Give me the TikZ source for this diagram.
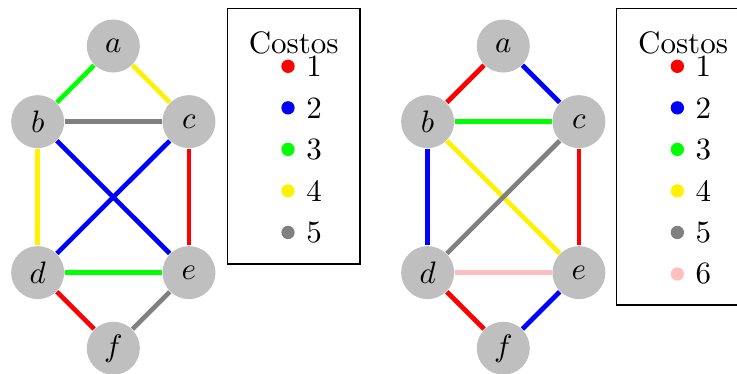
\documentclass[tikz,border=0pt]{standalone}
\usetikzlibrary{positioning}

\begin{document}
\begin{tikzpicture}[
  on grid,
  vtx/.style={circle,fill=lightgray,minimum size=17.1pt,inner sep=0pt},
  edg/.style={line width=1.5pt},
  legbox/.style={draw,minimum width=42.8pt,inner sep=0pt},
  dot/.style={circle,fill=#1,minimum size=4.3pt,inner sep=0pt}
]
\useasboundingbox (-36.55pt,-105.8pt) rectangle (201.2pt,14.84pt);

% first graph
\node[vtx] (a) at (0,0) {$a$};
\node[vtx,below left=24.4pt and 24.4pt of a] (b) {$b$};
\node[vtx,below right=24.4pt and 24.4pt of a] (c) {$c$};
\node[vtx,below=48.7pt of b] (d) {$d$};
\node[vtx,below=48.7pt of c] (e) {$e$};
\node[vtx,below right=24.4pt and 24.4pt of d] (f) {$f$};

\draw[edg,green] (a) -- (b);
\draw[edg,yellow] (a) -- (c);
\draw[edg,gray] (b) -- (c);
\draw[edg,yellow] (b) -- (d);
\draw[edg,blue] (b) -- (e);
\draw[edg,blue] (c) -- (d);
\draw[edg,red] (c) -- (e);
\draw[edg,green] (d) -- (e);
\draw[edg,red] (d) -- (f);
\draw[edg,gray] (e) -- (f);

% second graph
\node[vtx,right=125.8pt of a] (a2) {$a$};
\node[vtx,below left=24.4pt and 24.4pt of a2] (b2) {$b$};
\node[vtx,below right=24.4pt and 24.4pt of a2] (c2) {$c$};
\node[vtx,below=48.7pt of b2] (d2) {$d$};
\node[vtx,below=48.7pt of c2] (e2) {$e$};
\node[vtx,below right=24.4pt and 24.4pt of d2] (f2) {$f$};

\draw[edg,red] (a2) -- (b2);
\draw[edg,blue] (a2) -- (c2);
\draw[edg,green] (b2) -- (c2);
\draw[edg,blue] (b2) -- (d2);
\draw[edg,yellow] (b2) -- (e2);
\draw[edg,gray] (c2) -- (d2);
\draw[edg,red] (c2) -- (e2);
\draw[edg,pink] (d2) -- (e2);
\draw[edg,red] (d2) -- (f2);
\draw[edg,blue] (e2) -- (f2);

% legends
\node[legbox,minimum height=82.5pt] (legA) at (58.2pt,-29.1pt) {};
\node (titA) at ([yshift=-11.3pt]legA.north) {Costos};
\node[dot=red,label=right:1] (ca1) at ([xshift=-1.84pt,yshift=-18.9pt]legA.north) {};
\node[dot=blue,below=13.4pt of ca1,label=right:2] (ca2) {};
\node[dot=green,below=13.4pt of ca2,label=right:3] (ca3) {};
\node[dot=yellow,below=13.4pt of ca3,label=right:4] (ca4) {};
\node[dot=gray,below=13.4pt of ca4,label=right:5] (ca5) {};

\node[legbox,minimum height=95.7pt] (legB) at (183.8pt,-35.7pt) {};
\node (titB) at ([yshift=-11.3pt]legB.north) {Costos};
\node[dot=red,label=right:1] (cb1) at ([xshift=-1.84pt,yshift=-18.9pt]legB.north) {};
\node[dot=blue,below=13.4pt of cb1,label=right:2] (cb2) {};
\node[dot=green,below=13.4pt of cb2,label=right:3] (cb3) {};
\node[dot=yellow,below=13.4pt of cb3,label=right:4] (cb4) {};
\node[dot=gray,below=13.4pt of cb4,label=right:5] (cb5) {};
\node[dot=pink,below=13.4pt of cb5,label=right:6] (cb6) {};
\end{tikzpicture}
\end{document}
